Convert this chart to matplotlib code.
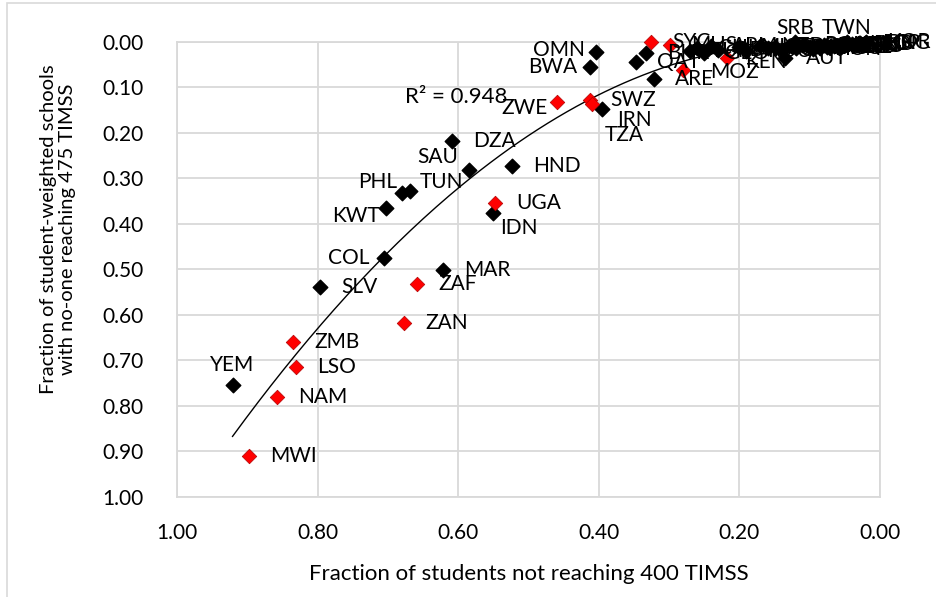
import numpy as np
import matplotlib
matplotlib.use('Agg')
import matplotlib.pyplot as plt
from matplotlib.patches import Rectangle

plt.rcParams['font.family'] = ['Lato', 'DejaVu Sans']

# Country codes, x = fraction of students not reaching 400 TIMSS,
# y = fraction of student-weighted schools with no-one reaching 475
countries = ['YEM', 'MWI', 'NAM', 'LSO', 'ZMB', 'SLV', 'ZAN', 'ZAF', 'COL', 'KWT',
             'PHL', 'TUN', 'MAR', 'SAU', 'DZA', 'IDN', 'UGA', 'HND', 'ZWE', 'BWA',
             'SWZ', 'TZA', 'OMN', 'IRN', 'QAT', 'BHR', 'ARE', 'SYC', 'MUS', 'MOZ',
             'TUR', 'CHL', 'GEO', 'ARM', 'LBN', 'KEN', 'MLT', 'ROU', 'NZL', 'ESP',
             'ITA', 'AUT', 'SVK', 'SRB', 'BGR', 'HRV', 'POL', 'SWE', 'DEU', 'HUN',
             'AUS', 'USA', 'CZE', 'DNK', 'KAZ', 'PRT', 'ENG', 'LTU', 'IRL', 'FIN',
             'NLD', 'TWN', 'RUS', 'JPN', 'SGP', 'HKG', 'KOR']
frac_students = [0.921, 0.897, 0.858, 0.831, 0.835, 0.796, 0.677, 0.658, 0.706, 0.703,
                 0.680, 0.668, 0.621, 0.584, 0.609, 0.551, 0.548, 0.523, 0.460, 0.413,
                 0.413, 0.409, 0.404, 0.396, 0.347, 0.333, 0.321, 0.326, 0.299, 0.280,
                 0.270, 0.260, 0.250, 0.240, 0.230, 0.218, 0.200, 0.190, 0.170, 0.160,
                 0.150, 0.135, 0.140, 0.121, 0.130, 0.120, 0.110, 0.100, 0.090, 0.095,
                 0.085, 0.080, 0.075, 0.070, 0.072, 0.065, 0.060, 0.058, 0.055, 0.050,
                 0.045, 0.047, 0.040, 0.030, 0.028, 0.022, 0.020]
frac_schools = [0.755, 0.909, 0.780, 0.715, 0.659, 0.540, 0.619, 0.533, 0.475, 0.366,
                0.332, 0.328, 0.502, 0.282, 0.218, 0.377, 0.355, 0.273, 0.132, 0.057,
                0.128, 0.137, 0.024, 0.149, 0.046, 0.026, 0.083, 0.000, 0.008, 0.063,
                0.020, 0.015, 0.025, 0.010, 0.018, 0.036, 0.012, 0.020, 0.010, 0.015,
                0.012, 0.036, 0.018, 0.000, 0.010, 0.015, 0.008, 0.012, 0.010, 0.016,
                0.014, 0.008, 0.012, 0.010, 0.013, 0.010, 0.010, 0.009, 0.012, 0.008,
                0.006, 0.000, 0.005, 0.004, 0.004, 0.003, 0.002]
red_group = ['MWI', 'NAM', 'LSO', 'ZMB', 'ZAN', 'ZAF', 'UGA', 'ZWE', 'SWZ', 'TZA',
             'SYC', 'MUS', 'MOZ', 'KEN']
r_squared = 0.948

x = np.array(frac_students)
y = np.array(frac_schools)
is_red = np.array([c in red_group for c in countries])

# label placement tweaks (pixels: dx, dy, ha); default is to the right
label_pos = {
    'OMN': (-11, 2, 'right'), 'BWA': (-12, 0, 'right'), 'ZWE': (-9, -6, 'right'),
    'SAU': (-11, 13, 'right'), 'TUN': (9, 9, 'left'), 'PHL': (-5, 11, 'right'),
    'KWT': (-6, -8, 'right'), 'COL': (-14, 0, 'right'), 'IDN': (7, -15, 'left'),
    'IRN': (16, -11, 'left'), 'TZA': (12, -31, 'left'), 'YEM': (0, 20, 'center'),
    'SRB': (0, 14, 'center'), 'TWN': (0, 14, 'center'), 'MOZ': (27, -2, 'left'),
    'KEN': (18, -4, 'left'),
}

fig = plt.figure(figsize=(9.36, 5.97), dpi=100)
W, H = 936, 597
ax = fig.add_axes([177 / W, 1 - 497 / H, (880 - 177) / W, (497 - 41.5) / H])

ax.set_xlim(1.0, 0.0)
ax.set_ylim(1.0, 0.0)
ax.set_xticks(np.arange(0, 1.01, 0.2))
ax.set_yticks(np.arange(0, 1.01, 0.1))
ax.set_xticklabels([f'{v:.2f}' for v in np.arange(0, 1.01, 0.2)])
ax.set_yticklabels([f'{v:.2f}' for v in np.arange(0, 1.01, 0.1)])
ax.grid(True, color='#d9d9d9', linewidth=1.3)
ax.set_axisbelow(True)
for s in ax.spines.values():
    s.set_color('#d9d9d9')
    s.set_linewidth(1.3)
ax.tick_params(length=0, labelsize=15, colors='#000000')
ax.tick_params(axis='x', pad=19)
ax.tick_params(axis='y', pad=24)

# polynomial trendline (order 2)
coef = np.polyfit(x, y, 2)
xs = np.linspace(x.max(), x.min(), 200)
ax.plot(xs, np.polyval(coef, xs), color='black', linewidth=1.0, zorder=2)

ax.scatter(x[~is_red], y[~is_red], marker='D', s=55, color='black', zorder=3,
           clip_on=False)
ax.scatter(x[is_red], y[is_red], marker='D', s=55, color='#ff0000',
           edgecolor='#b00000', linewidth=0.5, zorder=3, clip_on=False)

for c, xv, yv in zip(countries, x, y):
    dx, dy, ha = label_pos.get(c, (21, 0, 'left'))
    ax.annotate(c, (xv, yv), xytext=(dx, dy), textcoords='offset pixels',
                ha=ha, va='center', fontsize=15, zorder=4, annotation_clip=False)

ax.text(0.676, 0.122, f'R² = {r_squared}', ha='left', va='center', fontsize=16)

ax.set_xlabel('Fraction of students not reaching 400 TIMSS', fontsize=16, labelpad=15)
fig.text(58 / W, 1 - 229 / H,
         'Fraction of student-weighted schools\nwith no-one reaching 475 TIMSS',
         rotation=90, ha='center', va='center', fontsize=14.5, linespacing=1.1)

# chart border
fig.patches.append(Rectangle((7 / W, -0.1), 1.2, (1 - 3 / H) + 0.1,
                             transform=fig.transFigure, fill=False,
                             edgecolor='#d9d9d9', linewidth=1.2))

fig.savefig('out.png', dpi=100)
